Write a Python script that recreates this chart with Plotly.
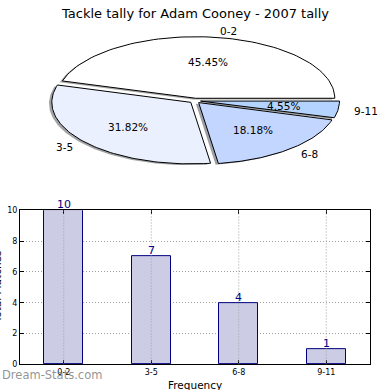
import numpy as np
import plotly.graph_objects as go

# ---- data ----
categories = ["0-2", "3-5", "6-8", "9-11"]
counts = [10, 7, 4, 1]
pie_colors = ["#FFFFFF", "#EBF0FF", "#C3D6FF", "#B4D4FF"]
title_text = "Tackle tally for Adam Cooney - 2007 tally"
x_title = "Frequency"
y_title = "Total Matches"
y_ticks = [0, 2, 4, 6, 8, 10]

FONT = "DejaVu Sans"
W = H = 390

# pie geometry (pixels)
CX, CY, RX, RY = 195, 99, 139, 63
EXPLODE = 0.04
SHADOW = (-0.02, -0.02)
GRID = "#A0A0A0"

fig = go.Figure()

total = sum(counts)
fracs = [c / total for c in counts]
angles = np.concatenate([[0], np.cumsum(fracs) * 360])


def hex_rgb(h):
    h = h.lstrip("#")
    return tuple(int(h[i:i + 2], 16) for i in (0, 2, 4))


wedges = []
for i, f in enumerate(fracs):
    t1, t2 = angles[i], angles[i + 1]
    mid = np.deg2rad((t1 + t2) / 2)
    ox, oy = EXPLODE * np.cos(mid), EXPLODE * np.sin(mid)
    th = np.deg2rad(np.linspace(t1, t2, 80))
    xs = np.concatenate([[ox], ox + np.cos(th), [ox]])
    ys = np.concatenate([[oy], oy + np.sin(th), [oy]])
    wedges.append((xs, ys, mid, ox, oy))

# shadows
for i, (xs, ys, mid, ox, oy) in enumerate(wedges):
    r, g, b = hex_rgb(pie_colors[i])
    fig.add_trace(go.Scatter(
        x=xs + SHADOW[0], y=ys + SHADOW[1], mode="lines", fill="toself",
        fillcolor=f"rgba({int(0.3*r)},{int(0.3*g)},{int(0.3*b)},0.5)",
        line=dict(width=0), xaxis="x2", yaxis="y2", hoverinfo="skip",
        showlegend=False))
# wedges
for i, (xs, ys, mid, ox, oy) in enumerate(wedges):
    fig.add_trace(go.Scatter(
        x=xs, y=ys, mode="lines", fill="toself", fillcolor=pie_colors[i],
        line=dict(color="black", width=1), xaxis="x2", yaxis="y2",
        hoverinfo="skip", showlegend=False))

annotations = []
for i, (xs, ys, mid, ox, oy) in enumerate(wedges):
    c, s = np.cos(mid), np.sin(mid)
    annotations.append(dict(
        x=ox + 0.6 * c, y=oy + 0.6 * s, xref="x2", yref="y2",
        text=f"{fracs[i]*100:.2f}%", showarrow=False,
        font=dict(family=FONT, size=10.5, color="black"),
        xanchor="center", yanchor="middle"))
    annotations.append(dict(
        x=ox + 1.1 * c, y=oy + 1.1 * s, xref="x2", yref="y2",
        text=categories[i], showarrow=False,
        font=dict(family=FONT, size=10.5, color="black"),
        xanchor="left" if c > 0 else "right", yanchor="middle"))

# bars
xi = list(range(len(categories)))
fig.add_trace(go.Bar(
    x=xi, y=counts, width=0.45,
    marker=dict(color="#CCCCE5", line=dict(color="#000080", width=1)),
    showlegend=False, hoverinfo="skip", xaxis="x", yaxis="y"))

# value labels sitting on top of bars
for i, v in zip(xi, counts):
    annotations.append(dict(
        x=i, y=v, xref="x", yref="y", text=str(v), showarrow=False,
        font=dict(family=FONT, size=11, color="#000080"),
        xanchor="center", yanchor="bottom", yshift=-3))

# vertical dotted grid drawn above bars
shapes = []
for i in xi:
    shapes.append(dict(type="line", xref="x", yref="y", x0=i, x1=i,
                       y0=0, y1=max(y_ticks), layer="above",
                       line=dict(color=GRID, width=1, dash="1px,2px")))

# title, watermark, axis titles
annotations += [
    dict(x=0.5, y=1 - 10 / H, xref="paper", yref="paper", text=title_text,
         showarrow=False, font=dict(family=FONT, size=13, color="black"),
         xanchor="center", yanchor="middle"),
    dict(x=0, y=1 - 380 / H, xref="paper", yref="paper",
         text="Dream-Stats.com", showarrow=False,
         font=dict(family=FONT, size=11.5, color="rgba(120,120,120,0.8)"),
         xanchor="left", yanchor="middle"),
    dict(x=195 / W, y=1 - 390 / H, xref="paper", yref="paper", text=x_title,
         showarrow=False, font=dict(family=FONT, size=10.5, color="black"),
         xanchor="center", yanchor="middle"),
    dict(x=-3 / W, y=1 - 290 / H, xref="paper", yref="paper", text=y_title,
         showarrow=False, textangle=-90,
         font=dict(family=FONT, size=10.5, color="black"),
         xanchor="center", yanchor="middle"),
]

axis_common = dict(showline=True, linecolor="black", linewidth=1,
                   mirror="allticks", ticks="inside", ticklen=4,
                   tickcolor="black", zeroline=False,
                   tickfont=dict(family=FONT, size=8, color="black"))

fig.update_layout(
    width=W, height=H, margin=dict(l=0, r=0, t=0, b=0),
    paper_bgcolor="white", plot_bgcolor="white",
    showlegend=False, bargap=0,
    xaxis=dict(domain=[20 / W, 370 / W], range=[-0.5, len(categories) - 0.5],
               tickmode="array", tickvals=xi,
               ticktext=categories, showgrid=False, anchor="y",
               **axis_common),
    yaxis=dict(domain=[(H - 369) / H, (H - 211) / H],
               range=[0, max(y_ticks)], tickmode="array", tickvals=y_ticks,
               showgrid=True, gridcolor=GRID, griddash="1px,2px",
               gridwidth=1, anchor="x", **axis_common),
    xaxis2=dict(domain=[0, 1], range=[-CX / RX, (W - CX) / RX],
                visible=False, anchor="y2", fixedrange=True),
    yaxis2=dict(domain=[0.5, 1], range=[-(H / 2 - CY) / RY, CY / RY],
                visible=False, anchor="x2", fixedrange=True),
    annotations=annotations, shapes=shapes,
)

fig.write_html(
    "out.html",
    config={"displayModeBar": False},
    post_script="document.body.style.margin='0';"
                "document.body.style.overflow='hidden';",
)
